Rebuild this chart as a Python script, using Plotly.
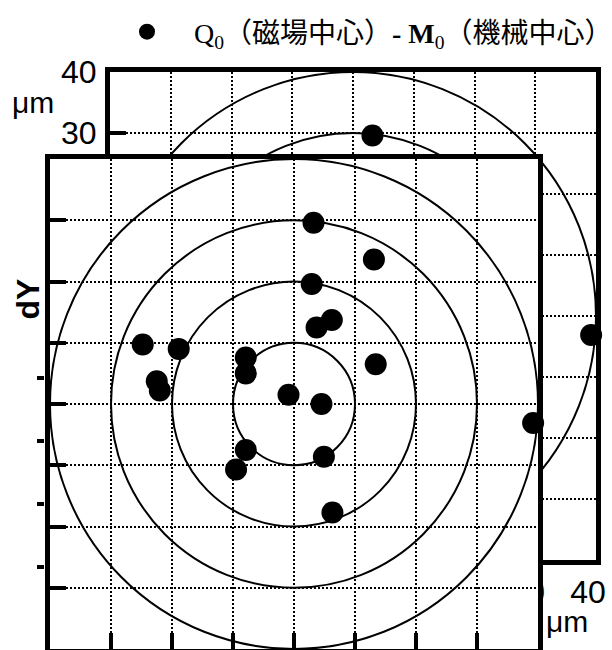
import plotly.graph_objects as go

# Offsets of the magnetic centre Q0 from the mechanical centre M0 (µm)
dx = [3.2, 13.1, 2.9, 6.2, 3.7, -24.8, -18.9, -7.9, 13.4, -7.9,
      -22.5, -22.0, -0.9, 4.5, -7.9, 4.9, -9.5, 6.3, 39.2]
dy = [29.6, 23.6, 19.6, 13.7, 12.5, 9.7, 9.0, 7.6, 6.5, 5.0,
      3.7, 2.2, 1.5, 0.0, -7.5, -8.6, -10.7, -17.7, -3.1]

ring_radii = [10, 20, 30, 40]
grid_ticks = [-40, -30, -20, -10, 0, 10, 20, 30, 40]
grid_labels = ["-40", "-30", "-20", "-10", "0", "10", "20", "30", "40"]
edge_ticks = [-10, -20, -30, -40]

legend_name = "Q<sub>0</sub>（磁場中心）<b>- M</b><sub>0</sub>（機械中心）"

W, H = 612, 650


def xdom(left, right):
    return [left / W, right / W]


def ydom(top, bottom):
    return [1 - bottom / H, 1 - top / H]


SANS = "Liberation Sans, Arial, sans-serif"
SERIF_CJK = "Liberation Serif, 'Noto Sans CJK JP', serif"

fig = go.Figure()

# rear panel (drawn first, partly covered by the front panel)
fig.add_trace(go.Scatter(
    x=dx, y=dy, xaxis="x", yaxis="y", mode="markers",
    marker=dict(color="black", size=22, line=dict(width=0)),
    cliponaxis=False, showlegend=False, hoverinfo="skip",
))
# front panel
fig.add_trace(go.Scatter(
    x=dx, y=dy, xaxis="x2", yaxis="y2", mode="markers", name=legend_name,
    marker=dict(color="black", size=22, line=dict(width=0)),
    cliponaxis=False, showlegend=True,
))
# carrier for the stray tick column at the far left
fig.add_trace(go.Scatter(
    x=[], y=[], xaxis="x2", yaxis="y3", mode="markers",
    showlegend=False, hoverinfo="skip",
))

axis_common = dict(
    range=[-40, 40], showline=True, mirror=True, linewidth=5, linecolor="black",
    showgrid=True, gridcolor="black", gridwidth=1.8, griddash="2px,2px",
    zeroline=False, ticks="inside", ticklen=16, tickwidth=4, tickcolor="black",
    tickmode="array", tickvals=grid_ticks, ticktext=grid_labels,
    tickfont=dict(family=SANS, size=32, color="black"),
)

shapes = []
for xr, yr in [("x", "y"), ("x2", "y2")]:
    for r in ring_radii:
        shapes.append(dict(
            type="circle", xref=xr, yref=yr, x0=-r, y0=-r, x1=r, y1=r,
            line=dict(color="black", width=2), layer="below",
        ))


def label(text, px, py, size, angle=0):
    return dict(text=text, x=px / W, y=1 - py / H, xref="paper", yref="paper",
                xanchor="center", yanchor="middle", showarrow=False,
                textangle=angle, font=dict(family=SANS, size=size, color="black"))


fig.update_layout(
    width=W, height=H,
    margin=dict(l=0, r=0, t=0, b=0, pad=0, autoexpand=False),
    paper_bgcolor="white", plot_bgcolor="white",
    font=dict(family=SANS, color="black"),
    xaxis=dict(axis_common, domain=xdom(110, 596), anchor="y",
               ticklabelshift=-8, ticklabelstandoff=0),
    yaxis=dict(axis_common, domain=ydom(72, 560), anchor="x",
               ticklabelstandoff=2),
    xaxis2=dict(axis_common, domain=xdom(50, 538), anchor="y2",
                showticklabels=False),
    yaxis2=dict(axis_common, domain=ydom(159, 649), anchor="x2",
                showticklabels=False),
    yaxis3=dict(overlaying="y2", anchor="free", position=44 / W, side="left",
                range=[-53, 24.8], tickmode="array", tickvals=edge_ticks,
                ticks="outside", ticklen=7, tickwidth=3.5, tickcolor="black",
                showticklabels=False, showgrid=False, zeroline=False,
                showline=False),
    shapes=shapes,
    showlegend=True,
    legend=dict(
        x=100 / W, y=1 - 32 / H, xanchor="left", yanchor="middle",
        font=dict(family=SERIF_CJK, size=28, color="black"),
        itemwidth=84, bgcolor="rgba(0,0,0,0)", borderwidth=0,
    ),
    annotations=[
        label("μm", 33, 102, 30),
        label("μm", 567, 621, 30),
        label("<b>dY</b>", 27.5, 299, 32, angle=-90),
    ],
)

fig.write_html("out.html")
